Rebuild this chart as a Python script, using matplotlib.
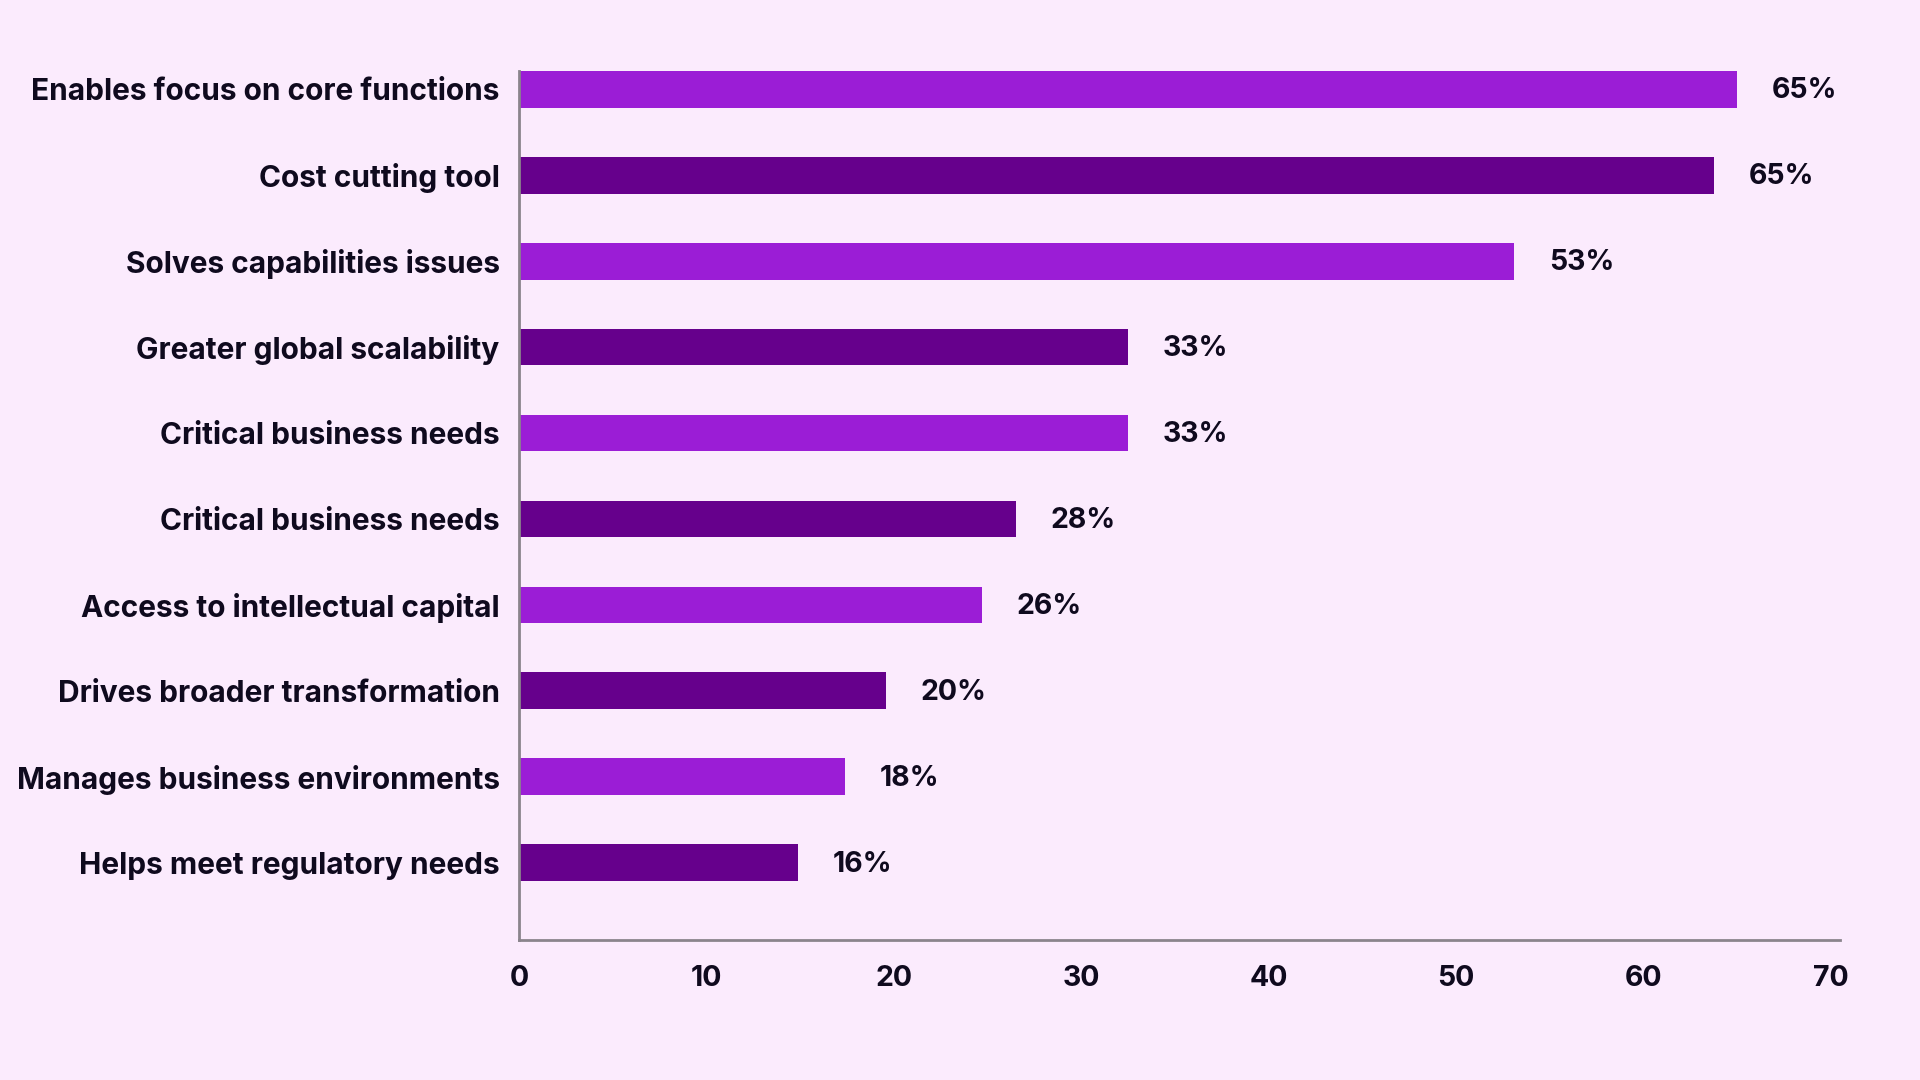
import matplotlib
matplotlib.use("Agg")
import matplotlib.pyplot as plt

categories = [
    "Enables focus on core functions",
    "Cost cutting tool",
    "Solves capabilities issues",
    "Greater global scalability",
    "Critical business needs",
    "Critical business needs",
    "Access to intellectual capital",
    "Drives broader transformation",
    "Manages business environments",
    "Helps meet regulatory needs",
]
values = [65, 63.8, 53.1, 32.5, 32.5, 26.5, 24.7, 19.6, 17.4, 14.9]
value_labels = ["65%", "65%", "53%", "33%", "33%", "28%", "26%", "20%", "18%", "16%"]
x_ticks = [0, 10, 20, 30, 40, 50, 60, 70]

bg = "#FBEBFD"
light = "#9B1DD6"
dark = "#66008C"
text_color = "#0F0A1E"
font = "Inter"

fig = plt.figure(figsize=(19.2, 10.8), dpi=100, facecolor=bg)
ax = fig.add_axes([519 / 1920, 1 - 940 / 1080, (1840 - 519) / 1920, (940 - 71) / 1080])
ax.set_facecolor(bg)

ypos = list(range(len(categories)))
colors = [light if i % 2 == 0 else dark for i in ypos]
ax.barh(ypos, values, height=0.427, color=colors)

for y, v, lab in zip(ypos, values, value_labels):
    ax.annotate(lab, (v, y), xytext=(25, -1), textcoords="offset points",
                va="center", ha="left", fontsize=20.5, fontweight="bold",
                color=text_color, family=font)

ax.set_xlim(0, 70.5)
ax.set_ylim(9.90, -0.2135)
ax.set_yticks(ypos)
ax.set_yticklabels(categories, fontsize=21.5, fontweight="bold", color=text_color, family=font)
ax.set_xticks(x_ticks)
ax.set_xticklabels([str(t) for t in x_ticks], fontsize=20.5, fontweight="bold", color=text_color, family=font)
ax.tick_params(axis="y", length=0, pad=14)
ax.tick_params(axis="x", length=0, pad=18)

for s in ["top", "right"]:
    ax.spines[s].set_visible(False)
for s in ["left", "bottom"]:
    ax.spines[s].set_color("#8A848C")
    ax.spines[s].set_linewidth(2)

fig.savefig("out.png", dpi=100, facecolor=bg)
